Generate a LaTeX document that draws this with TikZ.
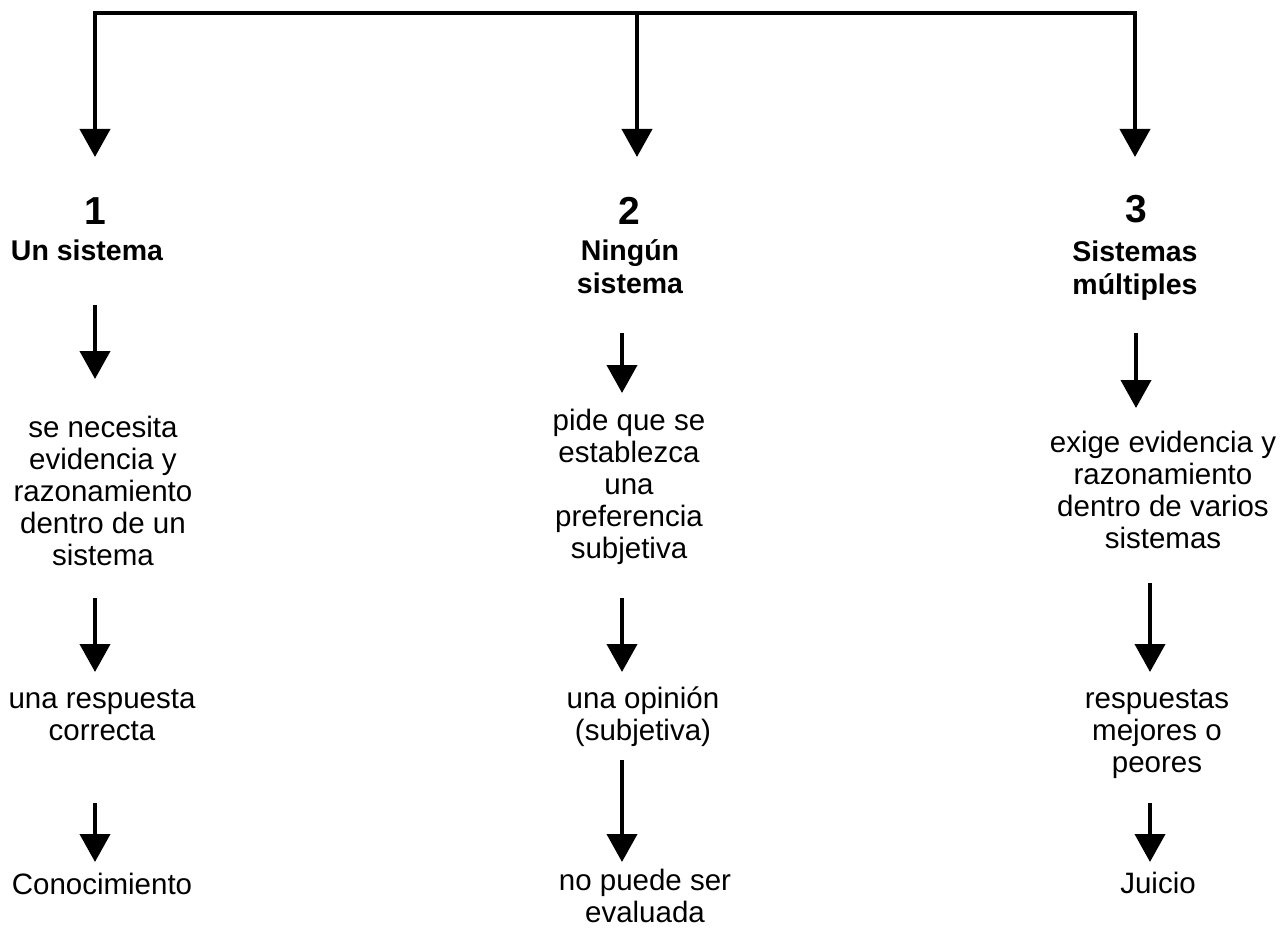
\documentclass[tikz,border=0pt]{standalone}
\usepackage{fontspec}
\setmainfont{Liberation Sans}
\usetikzlibrary{arrows.meta}
\begin{document}
\begin{tikzpicture}[x=1pt,y=-1pt,
  conn/.style={line width=4pt,-{Triangle[length=28pt,width=30pt]}},
  bar/.style={line width=4pt,line cap=rect},
  num/.style={inner sep=0pt,anchor=base,font=\fontsize{39}{42}\selectfont\bfseries},
  head/.style={inner sep=0pt,anchor=north,align=center,font=\fontsize{28.5}{33}\selectfont\bfseries},
  headone/.style={inner sep=0pt,anchor=base,font=\fontsize{28.5}{33}\selectfont\bfseries},
  txt/.style={inner sep=0pt,anchor=north,align=center,font=\fontsize{29.5}{32}\selectfont},
  txtone/.style={inner sep=0pt,anchor=base,font=\fontsize{29.5}{32}\selectfont}]
\useasboundingbox (0,0) rectangle (1286,928);
% top bar
\coordinate (t1) at (95,13);
\coordinate (t2) at (637,13);
\coordinate (t3) at (1135,13);
\coordinate (e1) at (95,157);
\coordinate (e2) at (637,157);
\coordinate (e3) at (1135,157);
\draw[bar] (t1) -- (t3);
\draw[conn] (t1) -- (e1);
\draw[conn] (t2) -- (e2);
\draw[conn] (t3) -- (e3);
% column 1
\node[num] (n1) at (95,225) {1};
\node[headone] (h1) at (87,261) {Un sistema};
\node[txt] (a1) at (103,414.6) {\strut se necesita\\evidencia y\\razonamiento\\dentro de un\\sistema};
\node[txt] (b1) at (102,685.6) {\strut una respuesta\\correcta};
\node[txtone] (c1) at (102,894) {Conocimiento};
\coordinate (p1s) at (95,305); \coordinate (p1e) at (95,379);
\coordinate (q1s) at (95,598); \coordinate (q1e) at (95,672);
\coordinate (r1s) at (95,803); \coordinate (r1e) at (95,862);
\draw[conn] (p1s) -- (p1e);
\draw[conn] (q1s) -- (q1e);
\draw[conn] (r1s) -- (r1e);
% column 2
\node[num] (n2) at (629,225) {2};
\node[head] (h2) at (630,236.9) {\strut Ningún\\sistema};
\node[txt] (a2) at (629,407.6) {\strut pide que se\\establezca\\una\\preferencia\\subjetiva};
\node[txt] (b2) at (643,685.6) {\strut una opinión\\(subjetiva)};
\node[txt] (c2) at (645,868) {\strut no puede ser\\evaluada};
\coordinate (p2s) at (622,333); \coordinate (p2e) at (622,393);
\coordinate (q2s) at (622,598); \coordinate (q2e) at (622,672);
\coordinate (r2s) at (622,760); \coordinate (r2e) at (622,862);
\draw[conn] (p2s) -- (p2e);
\draw[conn] (q2s) -- (q2e);
\draw[conn] (r2s) -- (r2e);
% column 3
\node[num] (n3) at (1136,223) {3};
\node[head] (h3) at (1135,237.9) {\strut Sistemas\\múltiples};
\node[txt] (a3) at (1163,429.6) {\strut exige evidencia y\\razonamiento\\dentro de varios\\sistemas};
\node[txt] (b3) at (1157,685.6) {\strut respuestas\\mejores o\\peores};
\node[txtone] (c3) at (1158,893) {Juicio};
\coordinate (p3s) at (1136,333); \coordinate (p3e) at (1136,408);
\coordinate (q3s) at (1150,583); \coordinate (q3e) at (1150,672);
\coordinate (r3s) at (1150,803); \coordinate (r3e) at (1150,862);
\draw[conn] (p3s) -- (p3e);
\draw[conn] (q3s) -- (q3e);
\draw[conn] (r3s) -- (r3e);
\end{tikzpicture}
\end{document}
